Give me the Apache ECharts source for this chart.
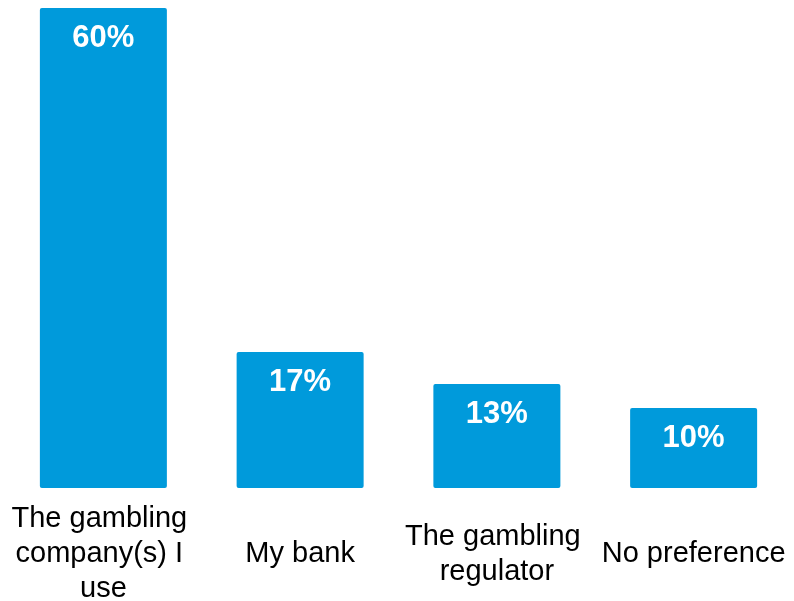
<!DOCTYPE html>
<html>
<head>
<meta charset="utf-8">
<style>
  html, body { margin: 0; padding: 0; background: #ffffff; }
  #chart { width: 794px; height: 601px; }
</style>
<script src="https://cdn.jsdelivr.net/npm/echarts@6/dist/echarts.min.js"></script>
</head>
<body>
<div id="chart"></div>
<script>
// Preferred source of gambling-related messages (% of respondents)
const categories = [
  'The gambling company(s) I use',
  'My bank',
  'The gambling regulator',
  'No preference'
];
const shares = [60, 17, 13, 10];

const chart = echarts.init(document.getElementById('chart'), null, { renderer: 'canvas' });

chart.setOption({
  animation: false,
  backgroundColor: '#ffffff',
  grid: {
    left: 5, right: 2, top: 8, bottom: 113,
    containLabel: false,
    outerBoundsMode: 'none'
  },
  xAxis: {
    type: 'category',
    data: categories,
    axisLine: { show: false },
    axisTick: { show: false },
    axisLabel: {
      interval: 0,
      margin: 66,
      verticalAlign: 'middle',
      width: 194,
      overflow: 'break',
      color: '#000000',
      fontFamily: 'Liberation Sans, Arial, sans-serif',
      fontSize: 29,
      lineHeight: 35,
      align: 'center'
    }
  },
  yAxis: {
    type: 'value',
    min: 0,
    max: 60,
    show: false,
    splitLine: { show: false }
  },
  series: [{
    type: 'bar',
    data: shares,
    barWidth: 127,
    itemStyle: { color: '#009ADB', borderRadius: 2 },
    label: {
      show: true,
      position: 'insideTop',
      distance: 15,
      formatter: '{c}%',
      color: '#ffffff',
      fontFamily: 'Liberation Sans, Arial, sans-serif',
      fontWeight: 'bold',
      fontSize: 31
    }
  }]
});
</script>
</body>
</html>
